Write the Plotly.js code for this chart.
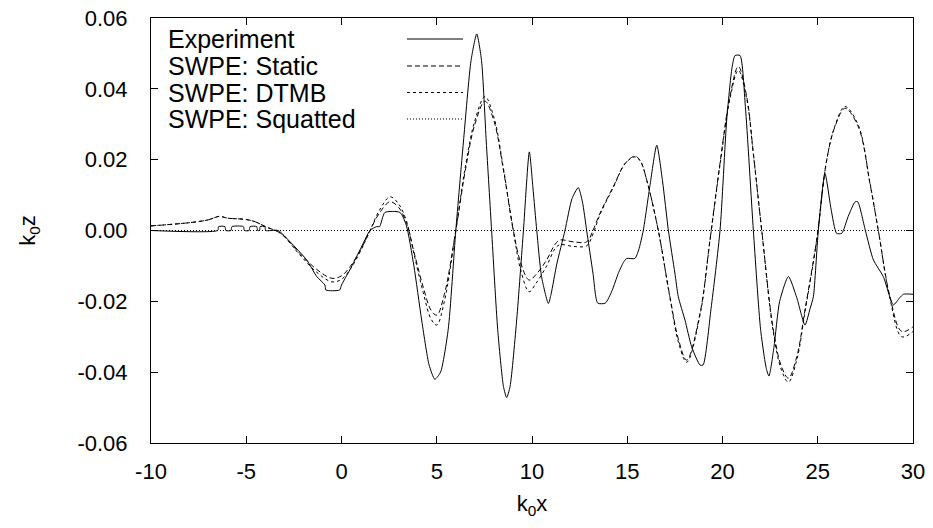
<!DOCTYPE html>
<html>
<head>
<meta charset="utf-8">
<script src="https://cdn.plot.ly/plotly-3.0.1.min.js"></script>
<style>html,body{margin:0;padding:0;background:#fff;}#chart{width:933px;height:528px;}</style>
</head>
<body>
<div id="chart"></div>
<script>
// ---- data ----
var seriesNames = ["Experiment", "SWPE: Static", "SWPE: DTMB", "SWPE: Squatted"];

var expX = [-10, -6.5, -6.45, -6.12, -6.07, -5.8, -5.75, -5.15, -5.1, -4.85, -4.8, -4.45, -4.4, -4.3, -4.27, -4.02, -3.98, -3.33,
  -2.7, -1.83, -1.3, -0.87, -0.82, -0.1, 0.0, 0.45, 0.97, 1.5, 1.85, 2.0, 2.28, 3.07, 3.4, 3.8, 4.2, 4.6, 4.9, 5.2, 5.6, 6.0,
  6.4, 6.8, 7.1, 7.35, 7.6, 7.88, 8.2, 8.5, 8.67, 8.85, 9.2, 9.55, 9.86, 10.05, 10.25, 10.5, 10.86, 11.0, 11.3, 11.73,
  12.1, 12.43, 12.65, 12.87, 13.2, 13.45, 13.85, 14.2, 14.53, 14.8, 14.97, 15.4, 15.6, 15.84, 16.2, 16.55, 16.85, 17.16,
  17.5, 17.68, 18.03, 18.38, 18.82, 18.98, 19.4, 19.87, 20.22, 20.5, 20.66, 20.92, 21.2, 21.62, 22.0, 22.3, 22.44, 22.7,
  23.0, 23.46, 23.9, 24.33, 24.6, 24.77, 25.03, 25.38, 25.7, 25.99, 26.26, 26.6, 26.96, 27.1, 27.5, 27.92, 28.44, 28.97,
  29.3, 29.5, 30];
var expY = [0, 0, 0.0011, 0.0011, 0, 0, 0.0011, 0.0011, 0, 0, 0.0011, 0.0011, 0, 0, 0.0011, 0.0011, 0, 0,
  -0.0032, -0.0083, -0.013, -0.0154, -0.0168, -0.0168, -0.0154, -0.011, -0.0055, 0, 0.0011, 0.0011, 0.0051, 0.0051, 0.0015, -0.010, -0.025, -0.038, -0.042, -0.040, -0.028, 0,
  0.025, 0.048, 0.0555, 0.048, 0.025, 0, -0.028, -0.044, -0.0472, -0.044, -0.025, 0, 0.0222, 0.012, 0, -0.013, -0.0206, -0.018, -0.0095, 0,
  0.009, 0.0121, 0.008, 0, -0.012, -0.0205, -0.0205, -0.017, -0.0121, -0.009, -0.0079, -0.0079, -0.0055, 0, 0.013, 0.0241, 0.014, 0,
  -0.012, -0.0187, -0.0253, -0.0328, -0.038, -0.038, -0.022, 0, 0.0312, 0.046, 0.0494, 0.0494, 0.035, 0, -0.028, -0.039, -0.0411, -0.033,
  -0.020, -0.013, -0.019, -0.0267, -0.022, -0.0187, 0, 0.0161, 0.006, -0.0008, -0.0008, 0.004, 0.0081, 0.0081, 0.0, -0.0083, -0.013, -0.021,
  -0.019, -0.018, -0.018];

var modelX = [-10, -8, -7, -6.4, -6, -5, -4.5, -4, -3.2, -2.2, -1.3, -0.5, 0.0, 0.45, 1.0, 1.5, 2.0, 2.55, 3.0, 3.42, 3.8, 4.29, 4.7, 5.0,
  5.4, 6.0, 6.5, 7.0, 7.53, 8.0, 8.5, 9.02, 9.4, 9.85, 10.2, 10.77, 11.2, 11.47, 12.17, 12.87, 13.2, 13.57, 14.27, 14.9, 15.41,
  15.7, 16.02, 16.63, 17.24, 17.7, 18.12, 18.82, 19.34, 19.87, 20.39, 20.83, 21.27, 21.62, 22.06, 22.67, 23.1, 23.46, 23.9,
  24.33, 24.94, 25.47, 25.9, 26.43, 27.13, 27.74, 28.18, 28.79, 29.41, 30];
var staticY = [0.0013, 0.0022, 0.003, 0.0040, 0.0035, 0.0031, 0.0024, 0.0011, -0.0008, -0.0064, -0.011, -0.0135, -0.0128, -0.0102, -0.0055, 0, 0.005, 0.0081, 0.0065, 0.002, -0.006, -0.016, -0.0225, -0.0239,
  -0.018, 0, 0.017, 0.030, 0.0365, 0.031, 0.0171, 0, -0.009, -0.0140, -0.0125, -0.0083, -0.004, -0.0027, -0.0032, -0.0032, 0, 0.0049, 0.0124, 0.019, 0.021,
  0.0195, 0.0143, 0, -0.0187, -0.031, -0.0366, -0.0234, -0.0027, 0.019, 0.0378, 0.0463, 0.0378, 0.0218, 0, -0.0281, -0.0385, -0.0417, -0.0356,
  -0.0224, -0.0027, 0.0199, 0.0293, 0.0345, 0.0293, 0.0133, 0, -0.0187, -0.0285, -0.0272];
var dtmbY = [0.0013, 0.0022, 0.003, 0.0040, 0.0035, 0.0031, 0.0024, 0.0011, -0.0008, -0.0068, -0.0118, -0.0145, -0.0138, -0.011, -0.0058, 0, 0.0058, 0.0095, 0.0075, 0.0025, -0.0065, -0.0175, -0.025, -0.0267,
  -0.020, 0, 0.018, 0.031, 0.0378, 0.032, 0.0175, 0, -0.011, -0.0173, -0.015, -0.010, -0.0052, -0.004, -0.0045, -0.0043, -0.001, 0.0045, 0.0122, 0.019, 0.0208,
  0.0195, 0.0143, 0, -0.019, -0.0318, -0.0372, -0.0238, -0.003, 0.0186, 0.0372, 0.0452, 0.0372, 0.0215, 0, -0.0288, -0.0395, -0.0428, -0.0365,
  -0.023, -0.003, 0.0199, 0.0295, 0.035, 0.0297, 0.0135, 0, -0.0192, -0.030, -0.0285];
var squatX = [-10, 30];
var squatY = [0, 0];

var xTickVals = [-10, -5, 0, 5, 10, 15, 20, 25, 30];
var xTickText = ["-10", "-5", "0", "5", "10", "15", "20", "25", "30"];
var yTickVals = [-0.06, -0.04, -0.02, 0, 0.02, 0.04, 0.06];
var yTickText = ["-0.06", "-0.04", "-0.02", "0.00", "0.02", "0.04", "0.06"];

// ---- styles ----
var dashes = ["solid", "5px,3px", "3px,3px", "1px,2px"];
var smooth = [0.6, 1, 1, 0];
var FONT = "Liberation Sans, Arial, Helvetica, sans-serif";

var traces = [
  {x: expX, y: expY, name: seriesNames[0]},
  {x: modelX, y: staticY, name: seriesNames[1]},
  {x: modelX, y: dtmbY, name: seriesNames[2]},
  {x: squatX, y: squatY, name: seriesNames[3]}
].map(function (t, i) {
  t.type = "scatter"; t.mode = "lines";
  t.line = {color: "#000", width: 1, dash: dashes[i]};
  if (smooth[i] > 0) { t.line.shape = "spline"; t.line.smoothing = smooth[i]; }
  t.showlegend = false; t.hoverinfo = "skip";
  return t;
});

// plot-area geometry for manual legend (paper coords)
var L = 151, R = 913, T = 18, B = 443, W = 933, H = 528;
function px(xp) { return (xp - L) / (R - L); }
function py(yp) { return (B - yp) / (B - T); }
var rowY = [39, 66, 92.5, 119];
var annotations = [], shapes = [];
seriesNames.forEach(function (n, i) {
  annotations.push({xref: "paper", yref: "paper", x: px(166), y: py(rowY[i]), xanchor: "left", yanchor: "middle",
    text: n, showarrow: false, font: {family: FONT, size: 25, color: "#000"}});
  shapes.push({type: "line", xref: "paper", yref: "paper", x0: px(407), x1: px(463), y0: py(rowY[i]), y1: py(rowY[i]),
    line: {color: "#000", width: 1, dash: dashes[i]}});
});

var axisCommon = {
  showgrid: false, zeroline: false, showline: true, linecolor: "#000", linewidth: 1,
  mirror: "ticks", ticks: "inside", ticklen: 7, tickwidth: 1, tickcolor: "#000",
  tickfont: {family: FONT, size: 22, color: "#000"}
};

var layout = {
  width: W, height: H,
  margin: {l: L, r: W - R, t: T, b: H - B},
  paper_bgcolor: "#fff", plot_bgcolor: "#fff",
  font: {family: FONT, color: "#000"},
  xaxis: Object.assign({}, axisCommon, {
    range: [-10, 30], tickvals: xTickVals, ticktext: xTickText, ticklabelstandoff: 9,
    title: {text: "k<sub>0</sub>x", font: {family: FONT, size: 22, color: "#000"}, standoff: 12}
  }),
  yaxis: Object.assign({}, axisCommon, {
    range: [-0.06, 0.06], tickvals: yTickVals, ticktext: yTickText, ticklabelstandoff: 18,
    title: {text: "k<sub>0</sub>z", font: {family: FONT, size: 22, color: "#000"}, standoff: 35}
  }),
  annotations: annotations,
  shapes: shapes
};

Plotly.newPlot("chart", traces, layout, {staticPlot: true, displayModeBar: false});
</script>
</body>
</html>
